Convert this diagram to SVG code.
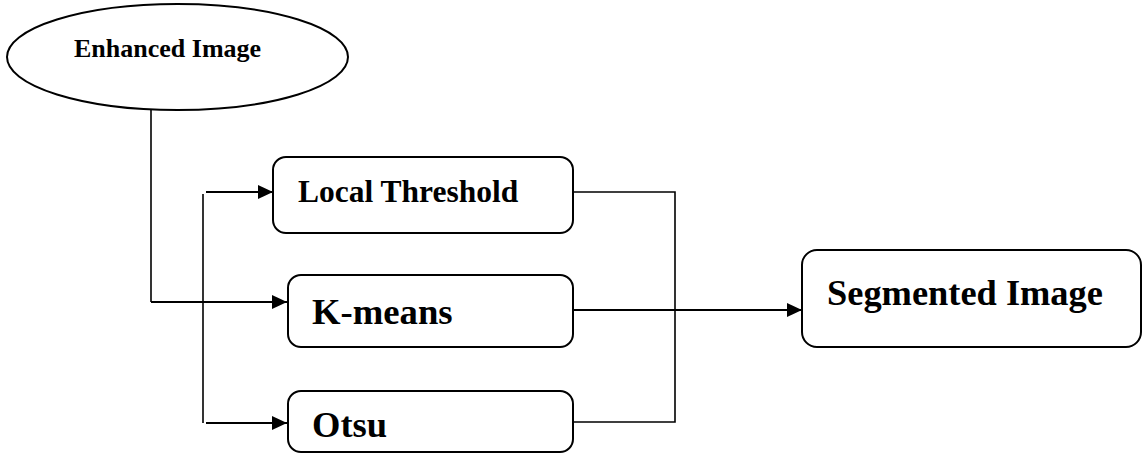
<svg xmlns="http://www.w3.org/2000/svg" width="1145" height="454" viewBox="0 0 1145 454">
<defs>
<style>
.box{fill:#fff;stroke:#000;stroke-width:2}
.lbl{font-family:"Liberation Serif","Times New Roman",serif;font-weight:bold;fill:#000}
.ln{fill:none;stroke:#000;stroke-width:1.6}
.arr{fill:none;stroke:#000;stroke-width:2.2}
</style>
<marker id="ah" markerUnits="userSpaceOnUse" markerWidth="16" markerHeight="14" refX="15" refY="7" orient="auto">
<path d="M0,0 L15,7 L0,14 Z" fill="#000"/>
</marker>
</defs>
<rect width="1145" height="454" fill="#fff"/>
<g id="connectors">
<path class="ln" d="M151,109 V302"/>
<path class="arr" d="M151,302 H287" marker-end="url(#ah)"/>
<path class="ln" d="M203,194 V423"/>
<path class="arr" d="M206,192 H273" marker-end="url(#ah)"/>
<path class="arr" d="M206,423 H287" marker-end="url(#ah)"/>
<path class="ln" d="M573,192 H675 V422 H573"/>
<path class="arr" d="M573,310 H802" marker-end="url(#ah)"/>
</g>
<g id="enhanced">
<ellipse class="box" cx="177.5" cy="57" rx="170.5" ry="53"/>
<text class="lbl" x="74" y="57" font-size="26">Enhanced Image</text>
</g>
<g id="local">
<rect class="box" x="273" y="157" width="300" height="76" rx="13"/>
<text class="lbl" x="298" y="202" font-size="31.5">Local Threshold</text>
</g>
<g id="kmeans">
<rect class="box" x="288" y="275" width="285" height="72" rx="13"/>
<text class="lbl" x="312" y="324" font-size="36.7">K-means</text>
</g>
<g id="otsu">
<rect class="box" x="288" y="391" width="285" height="61" rx="13"/>
<text class="lbl" x="312" y="437" font-size="36.5">Otsu</text>
</g>
<g id="segmented">
<rect class="box" x="802" y="250" width="339" height="97" rx="15"/>
<text class="lbl" x="827" y="305" font-size="36.4">Segmented Image</text>
</g>
</svg>
